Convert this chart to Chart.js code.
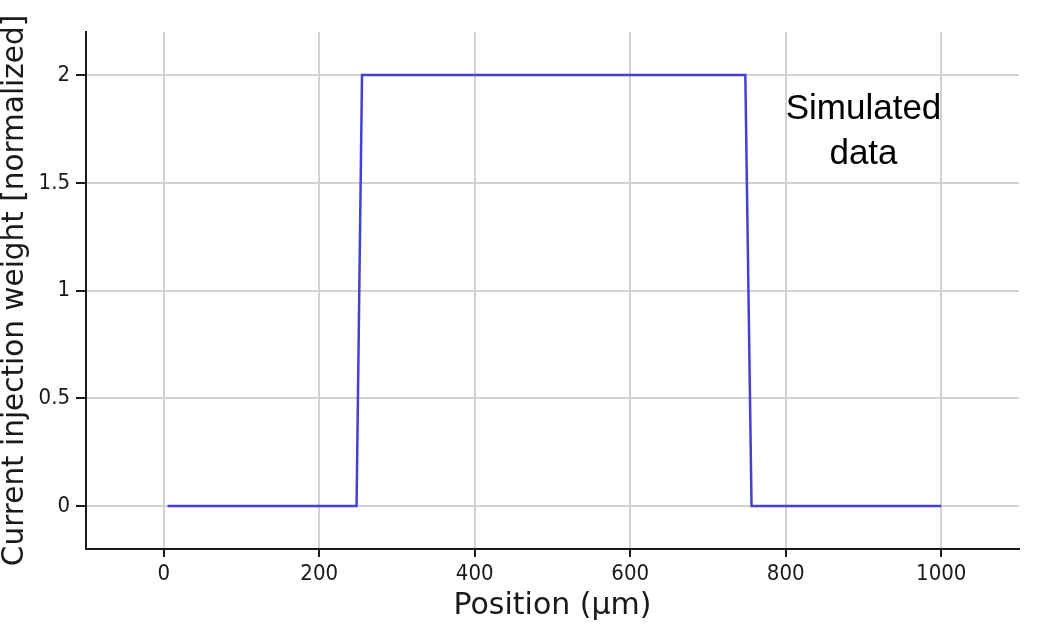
<!DOCTYPE html>
<html>
<head>
<meta charset="utf-8">
<script src="https://cdn.jsdelivr.net/npm/chart.js@4/dist/chart.umd.min.js"></script>
<style>
  html, body { margin: 0; padding: 0; background: #ffffff; }
  #wrap { width: 1054px; height: 633px; }
</style>
</head>
<body>
<div id="wrap"><canvas id="c" width="1054" height="633"></canvas></div>
<script>
// ---- data ----
const positions = [5, 248, 255, 748, 756, 1000];      // µm
const weights   = [0, 0, 2, 2, 0, 0];                  // normalized
const xTickValues = [0, 200, 400, 600, 800, 1000];
const yTickValues = [0, 0.5, 1, 1.5, 2];
const yTickLabels = ['0', '0.5', '1', '1.5', '2'];
const xTitle = 'Position (µm)';
const yTitle = 'Current injection weight [normalized]';
const noteLines = ['Simulated', 'data'];
const noteX = 900;
const noteY = [1.84, 1.63];

const points = positions.map((p, i) => ({ x: p, y: weights[i] }));

const tickFont = { family: '"DejaVu Sans Condensed", "Liberation Sans", sans-serif', size: 22 };
const xTitleFont = { family: '"DejaVu Sans", sans-serif', size: 30, lineHeight: 1 };
const yTitleFont = { family: '"DejaVu Sans", sans-serif', size: 29.5, lineHeight: 1 };

const notePlugin = {
  id: 'note',
  afterDatasetsDraw(chart) {
    const ctx = chart.ctx;
    const xs = chart.scales.x, ys = chart.scales.y;
    ctx.save();
    ctx.fillStyle = '#000000';
    ctx.font = '35px "Liberation Sans", Arial, sans-serif';
    ctx.textAlign = 'center';
    ctx.textBaseline = 'middle';
    noteLines.forEach((t, i) => {
      ctx.fillText(t, xs.getPixelForValue(noteX), ys.getPixelForValue(noteY[i]));
    });
    ctx.restore();
  }
};

new Chart(document.getElementById('c'), {
  type: 'scatter',
  data: {
    datasets: [{
      data: points,
      showLine: true,
      borderColor: '#4242d8',
      borderWidth: 2.5,
      pointRadius: 0,
      tension: 0,
      fill: false
    }]
  },
  options: {
    responsive: false,
    animation: false,
    events: [],
    layout: { padding: { top: 32, right: 35, left: 0, bottom: 0 } },
    plugins: { legend: { display: false }, tooltip: { enabled: false } },
    scales: {
      x: {
        type: 'linear',
        min: -100,
        max: 1100,
        afterBuildTicks(scale) { scale.ticks = xTickValues.map(v => ({ value: v })); },
        afterFit(scale) { scale.height = 84; },
        border: { color: '#1a1a1a', width: 2 },
        grid: { color: '#d2d2d2', lineWidth: 2, tickColor: '#1a1a1a', tickLength: 8, tickWidth: 2 },
        ticks: {
          color: '#1a1a1a',
          font: tickFont,
          padding: 4,
          maxRotation: 0,
          callback: (v) => String(v)
        },
        title: {
          display: true,
          text: xTitle,
          color: '#1a1a1a',
          font: xTitleFont,
          padding: { top: 0, bottom: 12 }
        }
      },
      y: {
        type: 'linear',
        min: -0.2,
        max: 2.2,
        afterBuildTicks(scale) { scale.ticks = yTickValues.map(v => ({ value: v })); },
        afterFit(scale) { scale.width = 86; },
        border: { color: '#1a1a1a', width: 2 },
        grid: { color: '#d2d2d2', lineWidth: 2, tickColor: '#1a1a1a', tickLength: 10, tickWidth: 2 },
        ticks: {
          color: '#1a1a1a',
          font: tickFont,
          padding: 6,
          callback: (v) => {
            const i = yTickValues.indexOf(v);
            return i >= 0 ? yTickLabels[i] : '';
          }
        },
        title: {
          display: true,
          text: yTitle,
          color: '#1a1a1a',
          font: yTitleFont,
          padding: { top: 1, bottom: 0 }
        }
      }
    }
  },
  plugins: [notePlugin]
});
</script>
</body>
</html>
